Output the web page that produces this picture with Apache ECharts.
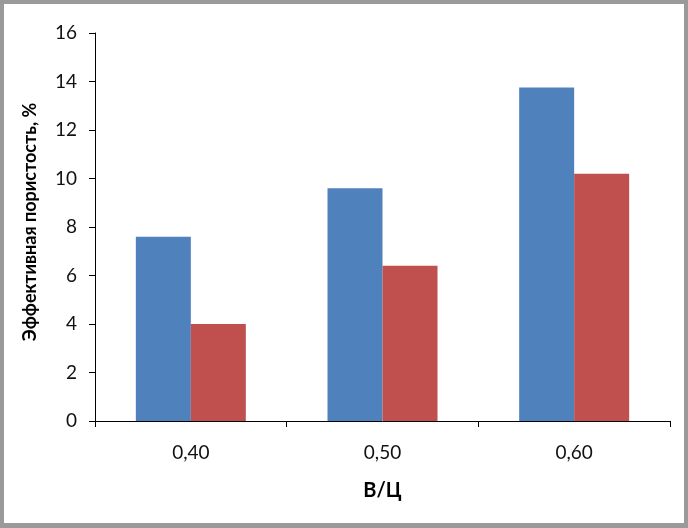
<!DOCTYPE html>
<html>
<head>
<meta charset="utf-8">
<script src="https://cdn.jsdelivr.net/npm/echarts@6/dist/echarts.min.js"></script>
<style>
html,body{margin:0;padding:0;background:#fff;}
#c{width:688px;height:528px;}
</style>
</head>
<body>
<div id="c"></div>
<script>
const categories = ['0,40', '0,50', '0,60'];
const seriesBlue = [7.6, 9.6, 13.75];
const seriesRed = [4.0, 6.4, 10.2];
const yTicks = { min: 0, max: 16, interval: 2 };
const yTitle = 'Эффективная пористость, %';
const xTitle = 'В/Ц';

const FONT = 'Lato';
const chart = echarts.init(document.getElementById('c'), null, { renderer: 'canvas' });
chart.setOption({
  animation: false,
  backgroundColor: '#9a9a9a',
  graphic: [{
    type: 'rect',
    z: -10,
    silent: true,
    shape: { x: 4, y: 4, width: 680, height: 519 },
    style: { fill: '#ffffff' }
  }],
  grid: { left: 95, right: 18, top: 33, bottom: 107, containLabel: false },
  xAxis: {
    type: 'category',
    data: categories,
    boundaryGap: true,
    name: xTitle,
    nameLocation: 'middle',
    nameGap: 60,
    nameTextStyle: { fontFamily: FONT, fontSize: 20, fontWeight: 'bold', color: '#000' },
    axisLine: { show: true, lineStyle: { color: '#000', width: 1 } },
    axisTick: { show: true, alignWithLabel: false, interval: 0, length: 6, lineStyle: { color: '#000' } },
    axisLabel: { fontFamily: FONT, fontSize: 19, color: '#111', margin: 22 },
    splitLine: { show: false }
  },
  yAxis: {
    type: 'value',
    min: yTicks.min,
    max: yTicks.max,
    interval: yTicks.interval,
    name: yTitle,
    nameLocation: 'middle',
    nameGap: 56,
    nameTextStyle: { fontFamily: FONT, fontSize: 18, fontWeight: 'bold', color: '#000', padding: [0, 0, 0, 10] },
    axisLine: { show: true, lineStyle: { color: '#000', width: 1 } },
    axisTick: { show: true, length: 6, lineStyle: { color: '#000' } },
    axisLabel: { fontFamily: FONT, fontSize: 19, color: '#111', margin: 18 },
    splitLine: { show: false }
  },
  series: [
    { type: 'bar', data: seriesBlue, barWidth: 55, barGap: '0%', itemStyle: { color: '#4F81BD' } },
    { type: 'bar', data: seriesRed, barWidth: 55, barGap: '0%', itemStyle: { color: '#C0504D' } }
  ]
});
</script>
</body>
</html>
